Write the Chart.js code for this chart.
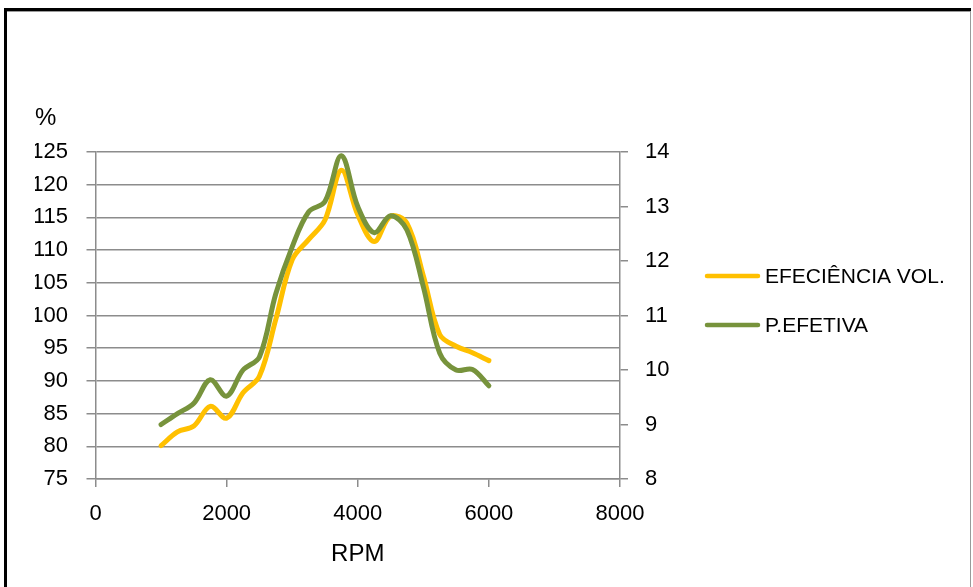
<!DOCTYPE html>
<html>
<head>
<meta charset="utf-8">
<script src="https://cdn.jsdelivr.net/npm/chart.js@4"></script>
<style>
html,body{margin:0;padding:0;background:#fff;}
#wrap{position:relative;width:973px;height:587px;}
</style>
</head>
<body>
<div id="wrap"><canvas id="c" width="973" height="587"></canvas></div>
<script>
const rpm = [1000,1250,1500,1750,2000,2250,2500,2750,3000,3250,3500,3750,4000,4250,4500,4750,5000,5250,5500,5750,6000];
const eficienciaVol = [80.1,82.2,83.1,86.1,84.3,88.2,90.7,99.4,108.5,111.6,114.6,122.2,115.4,111.3,115.2,114.1,106.1,97.1,95.3,94.3,93.1];
const pEfetiva = [9.0,9.2,9.39,9.82,9.52,10.0,10.24,11.4,12.26,12.9,13.09,13.93,13.0,12.52,12.83,12.57,11.53,10.31,10.0,10.01,9.71];
const seriesNames = ['EFECIÊNCIA VOL.', 'P.EFETIVA'];
const leftAxisTitle = '%';
const xAxisTitle = 'RPM';

const FONT = "'Liberation Sans', Arial, sans-serif";
const GRID = '#8c8c8c';

const frame = {
  id: 'frame',
  beforeDraw(chart) {
    const ctx = chart.ctx;
    ctx.save();
    ctx.fillStyle = '#fff';
    ctx.fillRect(0, 0, chart.width, chart.height);
    ctx.fillStyle = '#000';
    ctx.fillRect(4, 8, 967, 3);
    ctx.fillRect(4, 8, 3, chart.height - 8);
    ctx.fillStyle = '#9a9a9a';
    ctx.fillRect(7, 11, 964, 1);
    ctx.fillRect(970, 11, 1, chart.height - 11);
    ctx.restore();
  }
};

// legend drawn from the chart's own datasets (labels and colours)
const sideLegend = {
  id: 'sideLegend',
  afterDraw(chart) {
    const ctx = chart.ctx;
    const x0 = 705, lineLen = 55, rowY = [276, 325];
    ctx.save();
    chart.data.datasets.forEach((ds, i) => {
      const y = rowY[i];
      ctx.strokeStyle = ds.borderColor;
      ctx.lineWidth = 4.5;
      ctx.lineCap = 'round';
      ctx.beginPath();
      ctx.moveTo(x0 + 2, y);
      ctx.lineTo(x0 + lineLen - 2, y);
      ctx.stroke();
      ctx.fillStyle = '#000';
      ctx.font = '21px ' + FONT;
      ctx.textBaseline = 'middle';
      ctx.textAlign = 'left';
      ctx.fillText(ds.label, x0 + lineLen + 5, y + 1);
    });
    ctx.restore();
  }
};

const toXY = (xs, ys) => xs.map((x, i) => ({x: x, y: ys[i]}));
const plain = v => String(v);

const chart = new Chart(document.getElementById('c'), {
  type: 'line',
  data: {
    datasets: [
      {
        label: seriesNames[0],
        data: toXY(rpm, eficienciaVol),
        yAxisID: 'y',
        borderColor: '#FFC000',
        backgroundColor: '#FFC000',
        borderWidth: 5,
        pointRadius: 0,
        tension: 0.35,
        borderCapStyle: 'round',
        borderJoinStyle: 'round',
        order: 1
      },
      {
        label: seriesNames[1],
        data: toXY(rpm, pEfetiva),
        yAxisID: 'y2',
        borderColor: '#77933C',
        backgroundColor: '#77933C',
        borderWidth: 5,
        pointRadius: 0,
        tension: 0.35,
        borderCapStyle: 'round',
        borderJoinStyle: 'round',
        order: 0
      }
    ]
  },
  options: {
    responsive: false,
    animation: false,
    layout: { padding: { left: 35, top: 13, right: 278, bottom: 0 } },
    plugins: {
      tooltip: { enabled: false },
      legend: { display: false },
      title: {
        display: true,
        text: leftAxisTitle,
        align: 'start',
        color: '#000',
        font: { family: FONT, size: 24, weight: 'normal' },
        padding: { top: 90.6, bottom: 19.6 }
      }
    },
    scales: {
      x: {
        type: 'linear',
        min: 0, max: 8000,
        ticks: { stepSize: 2000, color: '#000', font: { family: FONT, size: 22 }, padding: 13.8, maxRotation: 0, callback: plain },
        grid: { drawOnChartArea: false, drawTicks: true, tickLength: 8, color: GRID, lineWidth: 1.5 },
        border: { display: true, color: GRID, width: 1.5 },
        title: { display: true, text: xAxisTitle, color: '#000', font: { family: FONT, size: 24 }, padding: { top: 0, bottom: 18.6 } },
        afterFit(s) { s.height = 108; }
      },
      y: {
        type: 'linear',
        position: 'left',
        min: 75, max: 125,
        ticks: { stepSize: 5, color: '#000', font: { family: FONT, size: 22 }, padding: 18.5, callback: plain },
        grid: { color: GRID, lineWidth: 1.5, tickLength: 9 },
        border: { display: true, color: GRID, width: 1.5 },
        afterFit(s) { s.width = 60.5; }
      },
      y2: {
        type: 'linear',
        position: 'right',
        min: 8, max: 14,
        ticks: { stepSize: 1, color: '#000', font: { family: FONT, size: 22 }, padding: 17, callback: plain },
        grid: { drawOnChartArea: false, color: GRID, lineWidth: 1.5, tickLength: 8 },
        border: { display: true, color: GRID, width: 1.5 },
        afterFit(s) { s.width = 75; }
      }
    }
  },
  plugins: [frame, sideLegend]
});
</script>
</body>
</html>
